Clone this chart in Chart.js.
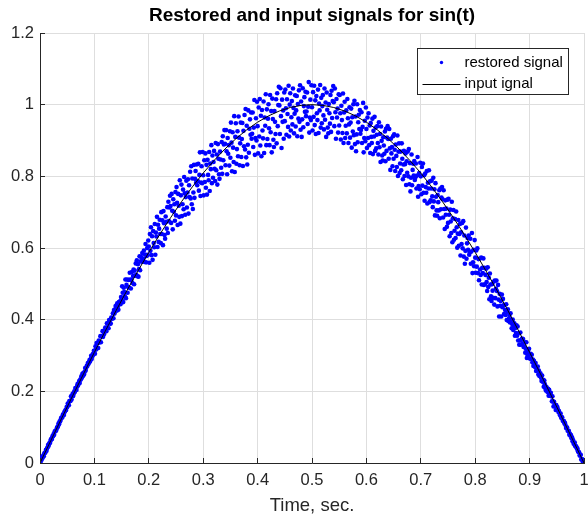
<!DOCTYPE html>
<html>
<head>
<meta charset="utf-8">
<script src="https://cdn.jsdelivr.net/npm/chart.js@4.4.1/dist/chart.umd.min.js"></script>
<style>
  html, body { margin: 0; padding: 0; background: #ffffff; }
  #signalChart { display: block; }
</style>
</head>
<body>
<canvas id="signalChart" width="588" height="518"></canvas>
<script>
// === Chart texts ===
const chartTitle = "Restored and input signals for sin(t)";
const xAxisTitle = "Time, sec.";
const legendLabels = ["restored signal", "input ignal"];
const xTickLabels = ["0", "0.1", "0.2", "0.3", "0.4", "0.5", "0.6", "0.7", "0.8", "0.9", "1"];
const yTickLabels = ["0", "0.2", "0.4", "0.6", "0.8", "1", "1.2"];

// === Restored signal, one value every sampleStep seconds ===
const sampleStep = 0.001;
const restoredSignal = [
  0.000,0.001,0.009,0.009,0.017,0.015,0.021,0.019,0.027,0.028,
  0.030,0.037,0.034,0.041,0.044,0.051,0.048,0.055,0.055,0.060,
  0.066,0.066,0.067,0.075,0.075,0.081,0.079,0.088,0.089,0.089,
  0.092,0.098,0.100,0.102,0.110,0.108,0.116,0.116,0.121,0.126,
  0.127,0.127,0.135,0.135,0.134,0.143,0.144,0.148,0.148,0.156,
  0.156,0.166,0.165,0.161,0.173,0.173,0.173,0.186,0.177,0.187,
  0.193,0.187,0.193,0.200,0.198,0.209,0.207,0.204,0.213,0.220,
  0.216,0.223,0.229,0.223,0.233,0.233,0.242,0.238,0.249,0.243,
  0.252,0.247,0.254,0.265,0.258,0.266,0.271,0.271,0.279,0.276,
  0.280,0.287,0.283,0.290,0.299,0.290,0.297,0.304,0.302,0.313,
  0.313,0.305,0.326,0.317,0.335,0.320,0.334,0.321,0.342,0.337,
  0.337,0.354,0.337,0.354,0.353,0.368,0.352,0.368,0.360,0.370,
  0.378,0.371,0.368,0.390,0.379,0.390,0.376,0.399,0.394,0.389,
  0.389,0.406,0.405,0.403,0.418,0.404,0.427,0.417,0.428,0.438,
  0.434,0.425,0.446,0.437,0.428,0.449,0.444,0.451,0.443,0.463,
  0.456,0.493,0.475,0.449,0.489,0.477,0.465,0.512,0.460,0.497,
  0.512,0.475,0.491,0.511,0.489,0.531,0.512,0.487,0.511,0.533,
  0.502,0.522,0.540,0.499,0.537,0.523,0.557,0.525,0.566,0.521,
  0.555,0.520,0.541,0.577,0.538,0.563,0.575,0.562,0.586,0.563,
  0.570,0.593,0.561,0.582,0.611,0.560,0.578,0.600,0.581,0.621,
  0.604,0.559,0.639,0.592,0.658,0.580,0.633,0.567,0.647,0.614,
  0.602,0.667,0.581,0.643,0.632,0.687,0.603,0.665,0.617,0.654,
  0.679,0.639,0.614,0.700,0.639,0.677,0.608,0.703,0.669,0.636,
  0.626,0.688,0.673,0.654,0.714,0.642,0.729,0.675,0.713,0.746,
  0.717,0.670,0.751,0.704,0.652,0.736,0.701,0.722,0.676,0.756,
  0.691,0.770,0.726,0.664,0.751,0.718,0.687,0.789,0.668,0.747,
  0.777,0.689,0.722,0.763,0.708,0.798,0.753,0.693,0.742,0.788,
  0.713,0.755,0.792,0.696,0.775,0.742,0.813,0.738,0.828,0.722,
  0.794,0.709,0.755,0.832,0.740,0.793,0.815,0.782,0.833,0.775,
  0.787,0.835,0.760,0.804,0.867,0.745,0.783,0.828,0.781,0.868,
  0.803,0.747,0.845,0.784,0.864,0.768,0.832,0.749,0.846,0.804,
  0.789,0.868,0.759,0.836,0.820,0.887,0.781,0.858,0.796,0.840,
  0.871,0.821,0.787,0.893,0.817,0.861,0.777,0.890,0.849,0.806,
  0.793,0.869,0.847,0.824,0.896,0.807,0.912,0.845,0.889,0.929,
  0.891,0.831,0.929,0.870,0.806,0.907,0.863,0.887,0.830,0.926,
  0.852,0.950,0.894,0.814,0.923,0.880,0.840,0.968,0.812,0.910,
  0.948,0.835,0.876,0.926,0.856,0.967,0.908,0.831,0.892,0.950,
  0.854,0.904,0.949,0.829,0.927,0.884,0.971,0.875,0.988,0.853,
  0.941,0.833,0.888,0.984,0.866,0.933,0.959,0.916,0.978,0.905,
  0.919,0.978,0.882,0.936,1.013,0.860,0.907,0.962,0.900,1.008,
  0.940,0.864,0.992,0.911,1.016,0.886,0.969,0.856,0.985,0.928,
  0.906,1.009,0.865,0.964,0.941,1.029,0.887,0.987,0.904,0.961,
  1.001,0.934,0.887,1.027,0.923,0.982,0.867,1.017,0.960,0.902,
  0.882,0.982,0.952,0.918,1.015,0.892,1.032,0.940,0.999,1.050,
  0.998,0.918,1.046,0.968,0.879,1.014,0.952,0.984,0.905,1.034,
  0.954,1.042,0.990,0.916,1.015,0.974,0.938,1.053,0.911,1.000,
  1.032,0.928,0.965,1.010,0.945,1.045,0.991,0.920,0.975,1.026,
  0.939,0.984,1.024,0.912,1.002,0.961,1.040,0.952,1.054,0.930,
  1.009,0.910,0.959,1.046,0.937,0.996,1.021,0.980,1.036,0.968,
  0.981,1.034,0.946,0.994,1.063,0.922,0.964,1.014,0.957,1.054,
  0.993,0.928,1.035,0.966,1.053,0.943,1.012,0.918,1.024,0.976,
  0.957,1.042,0.921,1.003,0.984,1.055,0.936,1.019,0.948,0.996,
  1.027,0.970,0.931,1.045,0.958,1.006,0.910,1.034,0.986,0.936,
  0.920,1.002,0.976,0.947,1.027,0.924,1.039,0.963,1.010,1.052,
  1.007,0.940,1.045,0.979,0.905,1.016,0.964,0.989,0.922,1.029,
  0.942,1.027,0.976,0.903,0.997,0.957,0.921,1.031,0.893,0.978,
  1.008,0.907,0.941,0.984,0.920,1.016,0.962,0.893,0.945,0.993,
  0.908,0.950,0.989,0.880,0.965,0.925,1.001,0.915,1.011,0.890,
  0.967,0.870,0.917,1.001,0.895,0.951,0.972,0.932,0.985,0.919,
  0.929,0.979,0.893,0.938,1.005,0.867,0.907,0.955,0.898,0.992,
  0.932,0.879,0.964,0.907,0.976,0.887,0.942,0.865,0.949,0.910,
  0.893,0.961,0.862,0.927,0.911,0.966,0.871,0.936,0.878,0.916,
  0.940,0.893,0.861,0.951,0.881,0.918,0.840,0.939,0.899,0.858,
  0.844,0.909,0.886,0.863,0.925,0.842,0.933,0.871,0.908,0.940,
  0.904,0.849,0.932,0.878,0.818,0.905,0.864,0.882,0.828,0.912,
  0.849,0.917,0.874,0.815,0.889,0.857,0.826,0.914,0.801,0.869,
  0.892,0.809,0.836,0.869,0.817,0.892,0.849,0.792,0.833,0.871,
  0.801,0.834,0.864,0.776,0.842,0.810,0.869,0.800,0.876,0.778,
  0.837,0.758,0.796,0.861,0.775,0.818,0.835,0.802,0.843,0.790,
  0.797,0.836,0.766,0.802,0.854,0.743,0.773,0.809,0.764,0.838,
  0.800,0.750,0.826,0.774,0.836,0.754,0.803,0.732,0.808,0.770,
  0.754,0.815,0.724,0.782,0.766,0.817,0.728,0.786,0.733,0.766,
  0.788,0.744,0.714,0.796,0.730,0.764,0.691,0.781,0.743,0.705,
  0.690,0.748,0.728,0.705,0.761,0.683,0.766,0.708,0.741,0.770,
  0.736,0.685,0.761,0.709,0.653,0.733,0.693,0.710,0.659,0.735,
  0.670,0.737,0.693,0.633,0.707,0.674,0.642,0.729,0.616,0.683,
  0.706,0.623,0.648,0.681,0.628,0.702,0.658,0.601,0.640,0.678,
  0.606,0.639,0.667,0.579,0.644,0.611,0.670,0.599,0.675,0.576,
  0.635,0.556,0.592,0.657,0.570,0.613,0.628,0.595,0.635,0.581,
  0.588,0.626,0.556,0.590,0.642,0.530,0.560,0.595,0.549,0.622,
  0.573,0.531,0.593,0.548,0.599,0.530,0.569,0.510,0.570,0.540,
  0.525,0.573,0.498,0.545,0.530,0.571,0.497,0.545,0.499,0.525,
  0.542,0.505,0.480,0.546,0.491,0.517,0.457,0.529,0.498,0.465,
  0.452,0.499,0.481,0.461,0.506,0.442,0.509,0.460,0.486,0.509,
  0.480,0.437,0.497,0.456,0.409,0.472,0.439,0.452,0.409,0.470,
  0.435,0.458,0.440,0.416,0.441,0.427,0.413,0.443,0.399,0.422,
  0.429,0.396,0.403,0.413,0.392,0.418,0.399,0.376,0.388,0.400,
  0.371,0.382,0.390,0.355,0.377,0.363,0.384,0.355,0.381,0.342,
  0.362,0.330,0.342,0.364,0.330,0.344,0.347,0.333,0.346,0.324,
  0.325,0.337,0.308,0.319,0.337,0.293,0.302,0.313,0.294,0.319,
  0.304,0.291,0.305,0.291,0.302,0.281,0.289,0.271,0.285,0.275,
  0.268,0.279,0.257,0.267,0.261,0.269,0.247,0.258,0.243,0.248,
  0.250,0.238,0.229,0.244,0.227,0.232,0.213,0.230,0.220,0.208,
  0.202,0.212,0.205,0.198,0.207,0.188,0.204,0.188,0.192,0.196,
  0.186,0.172,0.186,0.172,0.158,0.171,0.160,0.161,0.148,0.162,
  0.154,0.156,0.150,0.142,0.145,0.139,0.133,0.138,0.126,0.128,
  0.127,0.118,0.117,0.117,0.110,0.112,0.106,0.098,0.099,0.099,
  0.090,0.090,0.090,0.079,0.082,0.076,0.078,0.069,0.072,0.061,
  0.064,0.054,0.054,0.057,0.047,0.047,0.045,0.040,0.040,0.033,
  0.030,0.030,0.021,0.021,0.023,0.010,0.010,0.010,0.003,0.006,
  0.000
];

// === Input signal, one value every inputStep seconds ===
const inputStep = 0.02;
const inputSignal = [
  0.0000, 0.0628, 0.1253, 0.1874, 0.2487, 0.3090, 0.3681, 0.4258, 0.4818, 0.5358,
  0.5878, 0.6374, 0.6845, 0.7290, 0.7705, 0.8090, 0.8443, 0.8763, 0.9048, 0.9298,
  0.9511, 0.9686, 0.9823, 0.9921, 0.9980, 1.0000, 0.9980, 0.9921, 0.9823, 0.9686,
  0.9511, 0.9298, 0.9048, 0.8763, 0.8443, 0.8090, 0.7705, 0.7290, 0.6845, 0.6374,
  0.5878, 0.5358, 0.4818, 0.4258, 0.3681, 0.3090, 0.2487, 0.1874, 0.1253, 0.0628,
  0.0000
];

const axisColor = "#262626";
const fontFamily = "'Liberation Sans', Arial, sans-serif";
Chart.defaults.font.family = fontFamily;
Chart.defaults.color = axisColor;

// === Plugin: title centred over the plot area (not the whole canvas) ===
const plotTitle = {
  id: "plotTitle",
  afterDraw(chart) {
    const { ctx, chartArea } = chart;
    ctx.save();
    ctx.fillStyle = "#000000";
    ctx.font = "bold 19px " + fontFamily;
    ctx.textAlign = "center";
    ctx.textBaseline = "middle";
    ctx.fillText(chartTitle, (chartArea.left + chartArea.right) / 2, 16);
    ctx.restore();
  },
};

// === Plugin: short tick marks pointing into the plot (MATLAB style) ===
const innerTicks = {
  id: "innerTicks",
  afterDatasetsDraw(chart) {
    const { ctx, chartArea, scales } = chart;
    const align = (p) => Math.round(p - 0.5) + 0.5;
    ctx.save();
    ctx.strokeStyle = axisColor;
    ctx.lineWidth = 1;
    ctx.beginPath();
    scales.x.ticks.forEach((t) => {
      const px = align(scales.x.getPixelForValue(t.value));
      ctx.moveTo(px, chartArea.bottom);
      ctx.lineTo(px, chartArea.bottom - 5);
    });
    scales.y.ticks.forEach((t) => {
      const py = align(scales.y.getPixelForValue(t.value));
      ctx.moveTo(chartArea.left, py);
      ctx.lineTo(chartArea.left + 5, py);
    });
    ctx.stroke();
    ctx.restore();
  },
};

// === Plugin: boxed legend in the top right corner of the plot ===
const boxedLegend = {
  id: "boxedLegend",
  afterDraw(chart) {
    const { ctx, chartArea } = chart;
    const [restored, input] = chart.data.datasets;
    const w = 151, h = 46;
    const left = chartArea.right - 16 - w + 0.5;
    const top = chartArea.top + 15 + 0.5;
    ctx.save();
    ctx.fillStyle = "#ffffff";
    ctx.fillRect(left, top, w, h);
    ctx.strokeStyle = axisColor;
    ctx.lineWidth = 1;
    ctx.strokeRect(left, top, w, h);

    const row1 = top + 14, row2 = top + 35;
    // dot sample
    ctx.fillStyle = restored.pointBackgroundColor;
    ctx.beginPath();
    ctx.arc(left + 24, row1, 1.7, 0, Math.PI * 2);
    ctx.fill();
    // line sample
    ctx.strokeStyle = input.borderColor;
    ctx.beginPath();
    ctx.moveTo(left + 5, Math.round(row2) + 0.5);
    ctx.lineTo(left + 43, Math.round(row2) + 0.5);
    ctx.stroke();

    ctx.fillStyle = "#000000";
    ctx.font = "15px " + fontFamily;
    ctx.textBaseline = "middle";
    ctx.fillText(restored.label, left + 47, row1);
    ctx.fillText(input.label, left + 47, row2);
    ctx.restore();
  },
};

// === Build the chart ===
function drawChart() {
  const ctx = document.getElementById("signalChart").getContext("2d");

  new Chart(ctx, {
    type: "scatter",
    data: {
      datasets: [
        {
          label: legendLabels[0],
          data: restoredSignal.map((y, i) => ({ x: i * sampleStep, y })),
          pointBackgroundColor: "#0000ff",
          pointBorderWidth: 0,
          pointRadius: 2.3,
          showLine: false,
          order: 2,
        },
        {
          type: "line",
          label: legendLabels[1],
          data: inputSignal.map((y, i) => ({ x: i * inputStep, y })),
          borderColor: "#000000",
          borderWidth: 1,
          pointRadius: 0,
          tension: 0,
          fill: false,
          order: 1,
        },
      ],
    },
    options: {
      responsive: false,
      animation: false,
      layout: { padding: { left: 0, right: 1, top: 33, bottom: 0 } },
      scales: {
        x: {
          type: "linear",
          min: 0,
          max: 1,
          ticks: {
            stepSize: 0.1,
            padding: 8,
            maxRotation: 0,
            autoSkip: false,
            color: axisColor,
            font: { size: 16.5 },
            callback: (v, i) => xTickLabels[i],
          },
          grid: { color: "#dedede", drawTicks: false },
          border: { color: axisColor, width: 1 },
          title: {
            display: true,
            text: xAxisTitle,
            color: axisColor,
            font: { size: 18.5 },
            padding: { top: 0, bottom: 1 },
          },
          afterFit(scale) {
            scale.height = 55;
            scale.paddingLeft = 0;
            scale.paddingRight = 0;
          },
        },
        y: {
          type: "linear",
          min: 0,
          max: 1.2,
          ticks: {
            stepSize: 0.2,
            padding: 6,
            color: axisColor,
            font: { size: 16.5 },
            callback: (v, i) => yTickLabels[i],
          },
          grid: { color: "#dedede", drawTicks: false },
          border: { color: axisColor, width: 1 },
          afterFit(scale) {
            scale.width = 40;
            scale.paddingTop = 0;
            scale.paddingBottom = 0;
          },
        },
      },
      plugins: {
        legend: { display: false },
        tooltip: { enabled: false },
        title: { display: false },
      },
    },
    plugins: [innerTicks, boxedLegend, plotTitle],
  });
}

drawChart();
</script>
</body>
</html>
